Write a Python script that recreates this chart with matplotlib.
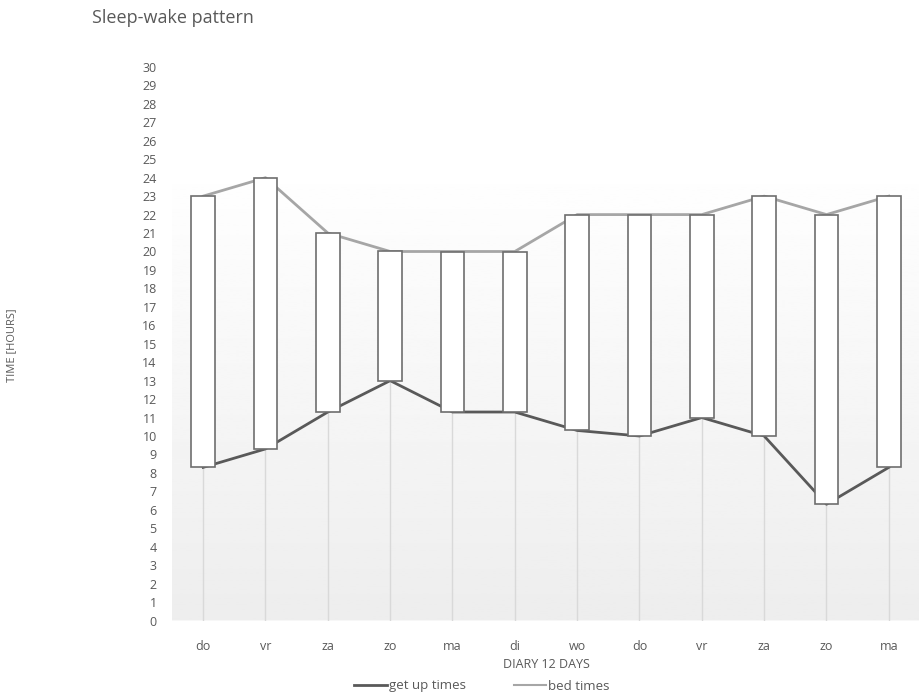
import matplotlib
matplotlib.use("Agg")
import matplotlib.pyplot as plt
import numpy as np
from matplotlib.lines import Line2D

days = ["do", "vr", "za", "zo", "ma", "di", "wo", "do", "vr", "za", "zo", "ma"]
get_up = [8.3, 9.3, 11.3, 13.0, 11.3, 11.3, 10.3, 10.0, 11.0, 10.0, 6.3, 8.3]
bed = [23, 24, 21, 20, 20, 20, 22, 22, 22, 23, 22, 23]
yticks = list(range(0, 31))

plt.rcParams['font.family'] = ['Open Sans', 'DejaVu Sans']
W, H = 920, 698
fig = plt.figure(figsize=(W / 100, H / 100), dpi=100)
ax = fig.add_axes([172 / W, (H - 620.5) / H, (920 - 172) / W, (620.5 - 67) / H])
x = np.arange(len(days))
ax.set_xlim(-0.5, len(days) - 0.5)
ax.set_ylim(0, 30)

# gradient background
grad = np.linspace(0.93, 1.0, 256).reshape(-1, 1)
ax.imshow(grad, extent=(-0.5, len(days) - 0.5, 0, 25), origin='lower',
          cmap='gray', vmin=0, vmax=1, aspect='auto', zorder=0)

# drop lines
ax.vlines(x, 0, get_up, colors='#d9d9d9', linewidth=1.0, zorder=1)

# series lines
ax.plot(x, get_up, color='#595959', linewidth=2.0, zorder=2)
ax.plot(x, bed, color='#a6a6a6', linewidth=2.0, zorder=2)

# up-down bars
heights = [b - g for b, g in zip(bed, get_up)]
ax.bar(x, heights, bottom=get_up, width=0.38, color='white', edgecolor='#6e6e6e',
       linewidth=1.2, zorder=3)

ax.axhline(0, color='#d9d9d9', linewidth=1.0, zorder=1)

for s in ax.spines.values():
    s.set_visible(False)
ax.set_yticks(yticks)
ax.set_yticklabels([str(t) for t in yticks])
ax.set_xticks(x)
ax.set_xticklabels(days)
ax.tick_params(axis='both', length=0, labelsize=9, labelcolor='#595959')
ax.tick_params(axis='y', pad=11)
ax.tick_params(axis='x', pad=14)
ax.set_xlabel("DIARY 12 DAYS", fontsize=9, color='#595959', labelpad=4)

fig.text(12 / W, 1 - 345 / H, "TIME [HOURS]", rotation=90, ha='center', va='center',
         fontsize=8, color='#595959')
fig.text(92 / W, 1 - 18 / H, "Sleep-wake pattern", ha='left', va='center',
         fontsize=13, color='#595959')

handles = [Line2D([], [], color='#595959', linewidth=2.0),
           Line2D([], [], color='#a6a6a6', linewidth=1.5)]
fig.legend(handles, ["get up times", "bed times"], loc='center',
           bbox_to_anchor=(482 / W, 1 - 686 / H), ncol=2, frameon=False,
           fontsize=9.5, labelcolor='#595959', handlelength=2.5, handletextpad=0.15,
           columnspacing=3.6)

fig.savefig("out.png", dpi=100, facecolor='white')
